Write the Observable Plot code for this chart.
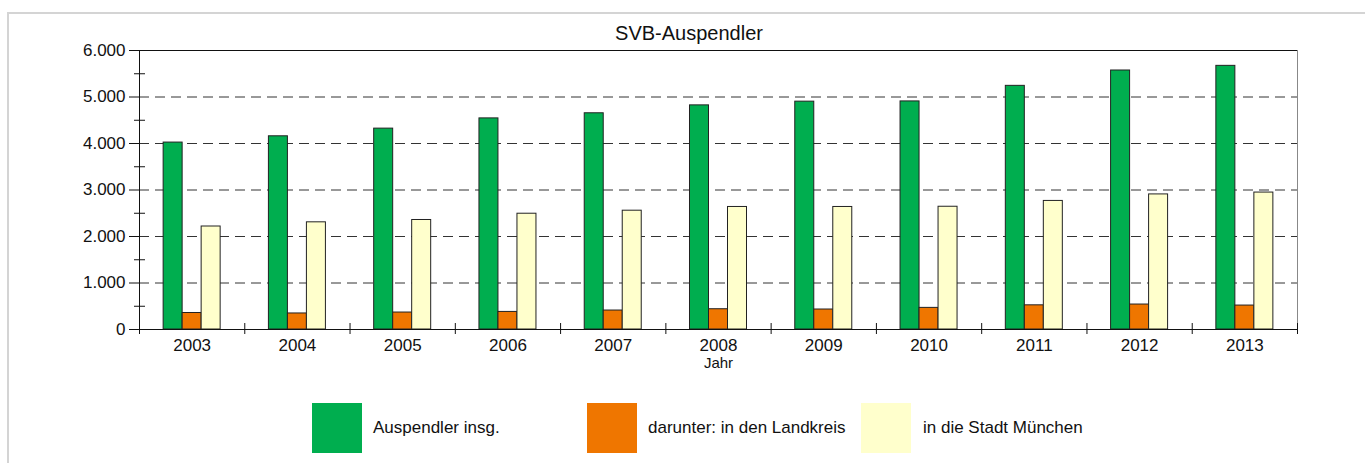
<!DOCTYPE html>
<html>
<head>
<meta charset="utf-8">
<script src="https://cdn.jsdelivr.net/npm/d3@7"></script>
<script src="https://cdn.jsdelivr.net/npm/@observablehq/plot@0.6"></script>
<style>
  html, body { margin: 0; padding: 0; background: #fff; }
  body { width: 1365px; height: 463px; position: relative; overflow: hidden; font-family: "Liberation Sans", Arial, sans-serif; color: #111; }
  #frame { position: absolute; left: 7px; top: 12px; width: 1400px; height: 500px; border-left: 2px solid #d4d4d4; border-top: 2px solid #d4d4d4; }
  #title { position: absolute; left: 689px; top: 23px; transform: translateX(-50%); font-size: 20px; line-height: 20px; white-space: nowrap; }
  #chart { position: absolute; left: 0; top: 0; }
  .lg-sw { position: absolute; top: 403px; width: 50px; height: 50px; }
  .lg-tx { position: absolute; top: 418px; font-size: 17px; line-height: 20px; white-space: nowrap; }
</style>
</head>
<body>
<div id="frame"></div>
<div id="chart"></div>
<div id="title">SVB-Auspendler</div>
<div id="legend"></div>
<script>
// ---- data ----
const years = [2003, 2004, 2005, 2006, 2007, 2008, 2009, 2010, 2011, 2012, 2013];
const insgesamt = [4020, 4155, 4320, 4540, 4650, 4820, 4900, 4905, 5240, 5570, 5670];
const landkreis = [355, 345, 365, 378, 408, 436, 430, 465, 520, 537, 515];
const muenchen = [2215, 2305, 2355, 2490, 2555, 2635, 2635, 2640, 2765, 2905, 2945];
const seriesNames = ["Auspendler insg.", "darunter: in den Landkreis", "in die Stadt München"];
const seriesColors = ["#00ae4f", "#ef7600", "#ffffcc"];
const yTicks = [0, 1000, 2000, 3000, 4000, 5000, 6000];
const yMinorTicks = [500, 1500, 2500, 3500, 4500, 5500];
const gridValues = [1000, 2000, 3000, 4000, 5000];
const xTitle = "Jahr";

// ---- layout ----
const barW = 0.1805; // bar width in year units
const seriesValues = [insgesamt, landkreis, muenchen];
const rows = [];
seriesNames.forEach((s, si) => {
  years.forEach((yr, i) => {
    const off = (si - 1) * barW;
    rows.push({series: s, year: yr, x1: yr + off - barW / 2, x2: yr + off + barW / 2, value: seriesValues[si][i]});
  });
});
const groupBounds = d3.range(years[0] - 0.5, years[years.length - 1] + 1, 1);
const deFormat = d3.formatLocale({decimal: ",", thousands: ".", grouping: [3], currency: ["", " €"]}).format(",d");

const chart = Plot.plot({
  width: 1365,
  height: 380,
  marginLeft: 139,
  marginRight: 68,
  marginTop: 50,
  marginBottom: 51,
  style: {fontFamily: "'Liberation Sans', Arial, sans-serif", fontSize: "17px", color: "#111", background: "transparent", maxWidth: "none"},
  x: {type: "linear", domain: [groupBounds[0], groupBounds[groupBounds.length - 1]], axis: null},
  y: {domain: [0, 6000], axis: null},
  color: {domain: seriesNames, range: seriesColors},
  marks: [
    Plot.ruleY(gridValues, {stroke: "#333", strokeDasharray: "10,6", strokeWidth: 1}),
    Plot.rectY(rows, {x1: "x1", x2: "x2", y1: 0, y2: "value", fill: "series", stroke: "#222", strokeWidth: 1}),
    Plot.ruleY([6000], {stroke: "#111"}),
    Plot.ruleY([0], {stroke: "#111"}),
    Plot.ruleX([groupBounds[0]], {stroke: "#111"}),
    Plot.ruleX([groupBounds[groupBounds.length - 1]], {stroke: "#888"}),
    Plot.axisY(yTicks, {anchor: "left", tickSize: 10, tickPadding: 4, tickFormat: deFormat, label: null, fontSize: 17}),
    Plot.axisY(yMinorTicks, {anchor: "left", tickSize: 11, dx: 6, tickFormat: () => "", label: null}),
    Plot.axisX(years, {anchor: "bottom", tickSize: 0, tickPadding: 9, tickFormat: d => String(d), label: null, fontSize: 17}),
    Plot.axisX(groupBounds, {anchor: "bottom", tickSize: 11, dy: -6, tickFormat: () => "", label: null}),
    Plot.text([xTitle], {text: d => d, frameAnchor: "bottom", dy: 38, fontSize: 15})
  ]
});
document.getElementById("chart").appendChild(chart);

// ---- legend ----
const legend = document.getElementById("legend");
const swatchLeft = [312, 587, 861];
const textLeft = [373, 648, 923];
seriesNames.forEach((s, i) => {
  const sw = document.createElement("div");
  sw.className = "lg-sw";
  sw.style.left = swatchLeft[i] + "px";
  sw.style.background = seriesColors[i];
  legend.appendChild(sw);
  const tx = document.createElement("div");
  tx.className = "lg-tx";
  tx.style.left = textLeft[i] + "px";
  tx.textContent = s;
  legend.appendChild(tx);
});
</script>
</body>
</html>
